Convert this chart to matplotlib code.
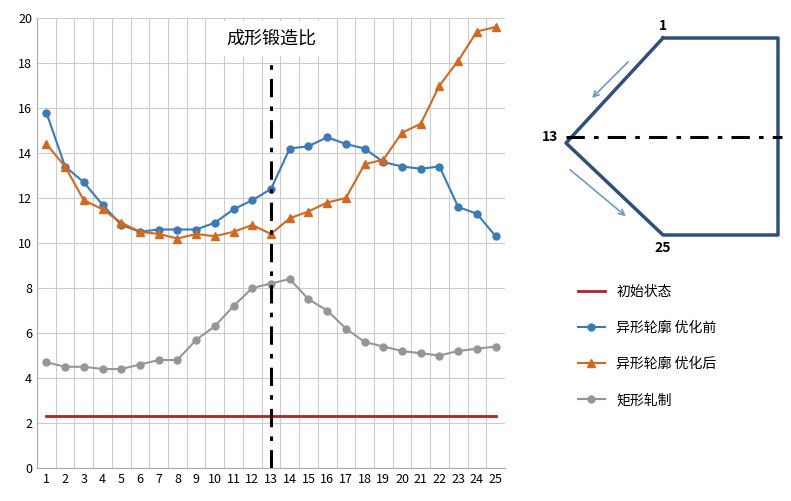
import matplotlib.pyplot as plt

plt.rcParams['font.family'] = ['Noto Sans CJK SC', 'DejaVu Sans']

positions = list(range(1, 26))
initial = [2.3] * 25
before = [15.8, 13.4, 12.7, 11.7, 10.8, 10.5, 10.6, 10.6, 10.6, 10.9, 11.5, 11.9, 12.4,
          14.2, 14.3, 14.7, 14.4, 14.2, 13.6, 13.4, 13.3, 13.4, 11.6, 11.3, 10.3]
after = [14.4, 13.4, 11.9, 11.5, 10.9, 10.5, 10.4, 10.2, 10.4, 10.3, 10.5, 10.8, 10.4,
         11.1, 11.4, 11.8, 12.0, 13.5, 13.7, 14.9, 15.3, 17.0, 18.1, 19.4, 19.6]
rect = [4.7, 4.5, 4.5, 4.4, 4.4, 4.6, 4.8, 4.8, 5.7, 6.3, 7.2, 8.0, 8.2,
        8.4, 7.5, 7.0, 6.2, 5.6, 5.4, 5.2, 5.1, 5.0, 5.2, 5.3, 5.4]
labels = ['初始状态', '异形轮廓 优化前', '异形轮廓 优化后', '矩形轧制']

W, H = 791, 501
fig = plt.figure(figsize=(W / 100, H / 100), dpi=100)
ax = fig.add_axes([37 / W, 33 / H, 468 / W, 450 / H])

ax.plot(positions, initial, color='#b22222', lw=2, label=labels[0])
ax.plot(positions, before, color='#3a7ab8', marker='o', ms=5, lw=1.5, label=labels[1])
ax.plot(positions, after, color='#d2691e', marker='^', ms=6, lw=1.5, label=labels[2])
ax.plot(positions, rect, color='#969696', marker='o', ms=5, lw=1.5, label=labels[3])
ax.axvline(13, color='black', lw=2.2, ls=(0, (6, 3, 1.5, 3)))

ax.set_xlim(0.5, 25.5)
ax.set_ylim(0, 20)
ax.set_xticks(positions)
ax.set_yticks(range(0, 21, 2))
ax.set_xticks([p + 0.5 for p in range(0, 26)], minor=True)
ax.tick_params(axis='both', labelsize=9, length=0, which='both')
ax.grid(axis='y', color='#cccccc', lw=0.8)
ax.grid(axis='x', which='minor', color='#cccccc', lw=0.8)
for s in ['top', 'right']:
    ax.spines[s].set_visible(False)
ax.spines['left'].set_color('#aaaaaa')
ax.spines['bottom'].set_color('#aaaaaa')
ax.set_axisbelow(True)
ax.text(0.5, 0.955, '成形锻造比', transform=ax.transAxes, ha='center', va='center',
        fontsize=13, bbox=dict(facecolor='white', edgecolor='none', pad=6))

fig.legend(loc='upper left', bbox_to_anchor=(565 / W, 1 - 272 / H), frameon=False,
           fontsize=10, labelspacing=1.6, handlelength=2)

# profile sketch
d = fig.add_axes([0, 0, 1, 1], facecolor='none')
d.set_xlim(0, W)
d.set_ylim(H, 0)
d.axis('off')
c = '#2f4f7f'
d.plot([663, 778, 778, 663, 566, 663], [38, 38, 235, 235, 143, 38], color=c, lw=2.5)
d.plot([566, 782], [137, 137], color='black', lw=2.2, ls=(0, (6, 3, 1.5, 3)))
d.annotate('', xy=(590, 100), xytext=(630, 60),
           arrowprops=dict(arrowstyle='->', color='#6a9ac8', lw=1.2))
d.annotate('', xy=(628, 218), xytext=(568, 168),
           arrowprops=dict(arrowstyle='->', color='#6a9ac8', lw=1.2))
d.text(663, 30, '1', ha='center', fontsize=10, fontweight='bold')
d.text(550, 137, '13', ha='center', va='center', fontsize=10, fontweight='bold')
d.text(663, 248, '25', ha='center', va='center', fontsize=10, fontweight='bold')

fig.savefig('out.png', dpi=100)
